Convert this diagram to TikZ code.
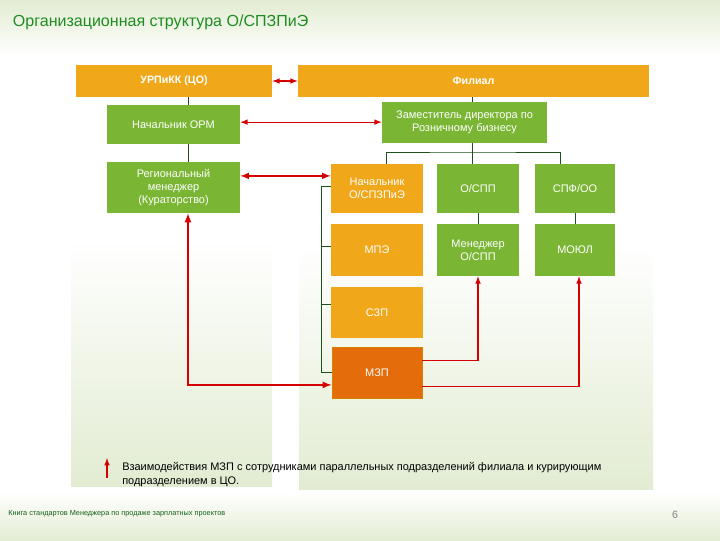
\documentclass[tikz,border=0pt]{standalone}
\usepackage{fontspec}
\setmainfont{Liberation Sans}
\usepackage{tikz}
\usetikzlibrary{arrows,calc,positioning}

\definecolor{orgorange}{RGB}{240,168,26}
\definecolor{orggreen}{RGB}{122,182,52}
\definecolor{mzporange}{RGB}{228,108,10}
\definecolor{linkred}{RGB}{214,0,0}
\definecolor{bargreen}{RGB}{28,80,28}
\definecolor{titlegreen}{RGB}{30,140,30}
\definecolor{panelgreen}{RGB}{226,236,210}

\tikzset{
  unit/.style={draw=none, text=white, align=center, font=\fontsize{7.8}{9.2}\selectfont, inner sep=1pt},
  obox/.style={unit, fill=orgorange},
  gbox/.style={unit, fill=orggreen},
  head/.style={obox, font=\fontsize{7.6}{9}\selectfont\bfseries},
  tree/.style={draw=bargreen, line width=0.7pt},
  link/.style={draw=linkred, line width=0.8pt, >=latex},
}

\begin{document}
\begin{tikzpicture}[x=0.025cm, y=-0.025cm]
		% page and panels
		\useasboundingbox (0,0) rectangle (720,540);
		\shade[top color=panelgreen, bottom color=white] (0,0) rectangle (720,56);
		\shade[top color=white, bottom color=panelgreen] (0,492) rectangle (720,540);
		\shade[top color=white, bottom color=panelgreen] (71,238) rectangle (272,486);
		\shade[top color=white, bottom color=panelgreen] (299,244) rectangle (653,489);
		\node[anchor=west, text=titlegreen, font=\fontsize{11.4}{13}\selectfont] (title) at (8,22) {Организационная структура О/СПЗПиЭ};

		% centre and branch
		\node[head, minimum width=4.9cm, minimum height=0.8cm] (urp) at (174,81) {УРПиКК (ЦО)};
		\node[head, minimum width=8.775cm, minimum height=0.8cm] (fil) at (473.5,81) {Филиал};
		\node[gbox, minimum width=3.325cm, minimum height=0.975cm] (orm) at (173.5,124.5) {Начальник ОРМ};
		\node[gbox, minimum width=3.325cm, minimum height=1.275cm] (reg) at (173.5,187.5) {Региональный\\менеджер\\(Кураторство)};
		\node[gbox, minimum width=4.125cm, minimum height=1.025cm] (zam) at (464.5,122.5) {Заместитель директора по\\Розничному бизнесу};

		% departments
		\node[obox, minimum width=2.3cm, minimum height=1.225cm] (nach) at (377,188.5) {Начальник\\О/СПЗПиЭ};
		\node[gbox, minimum width=2.05cm, minimum height=1.225cm] (osp) at (478,188.5) {О/СПП};
		\node[gbox, minimum width=2.0cm, minimum height=1.225cm] (spf) at (575,188.5) {СПФ/ОО};
		\node[obox, minimum width=2.3cm, minimum height=1.3cm] (mpe) at (377,250) {МПЭ};
		\node[gbox, minimum width=2.05cm, minimum height=1.3cm] (mosp) at (478,250) {Менеджер\\О/СПП};
		\node[gbox, minimum width=2.0cm, minimum height=1.3cm] (moul) at (575,250) {МОЮЛ};
		\node[obox, minimum width=2.3cm, minimum height=1.275cm] (szp) at (377,312.5) {СЗП};
		\node[unit, fill=mzporange, draw=orange!70!olive, line width=0.6pt, minimum width=2.25cm, minimum height=1.275cm] (mzp) at (377,372.5) {МЗП};

		% subordination
		\coordinate (axis) at (188,0);
		\coordinate (bus) at (472,152);
		\coordinate (rail) at (321,0);
		\draw[tree] (urp.south -| axis) -- (orm.north -| axis);
		\draw[tree] (orm.south -| axis) -- (reg.north -| axis);
		\draw[tree] (fil.south -| bus) -- (zam.north -| bus);
		\draw[tree] (zam.south -| bus) -- (bus);
		\draw[tree] ([xshift=0.225cm]nach.north) |- (bus) -| (spf.north -| 560,0);
		\draw[tree] (bus) -- (osp.north -| bus);
		\draw[tree] (osp.south) -- (mosp.north);
		\draw[tree] (spf.south) -- (moul.north);
		\draw[tree] ([yshift=0.06cm]nach.west) -| (mzp.west -| rail) -- (mzp.west);
		\draw[tree] ([yshift=0.1cm]mpe.west -| rail) -- ([yshift=0.1cm]mpe.west);
		\draw[tree] ([yshift=0.2cm]szp.west -| rail) -- ([yshift=0.2cm]szp.west);

		% interaction
		\draw[link, <->] (urp.east) -- (fil.west);
		\draw[link, <->] ([yshift=0.06cm]orm.east) -- ([yshift=0.06cm]orm.east -| zam.west);
		\draw[link, <->, line width=1.1pt] ([yshift=0.29cm]reg.east) -- ([yshift=0.29cm]reg.east -| nach.west);
		\draw[link, <->, line width=1.2pt] (reg.south -| axis) |- ([yshift=-0.31cm]mzp.west);
		\draw[link, ->] ([yshift=0.29cm]mzp.east) -| (mosp.south);
		\draw[link, ->] ([yshift=-0.34cm]mzp.east) -| ([xshift=0.1cm]moul.south);

		% legend and footer
		\coordinate (key) at (107,478);
		\draw[link, ->] (key) -- ++(0,-20);
		\node[anchor=north west, align=left, font=\fontsize{7.8}{10}\selectfont, inner sep=0pt] (note) at (122,462) {Взаимодействия МЗП с сотрудниками параллельных подразделений филиала и курирующим\\подразделением в ЦО.};
		\node[anchor=west, text=titlegreen!70!black, font=\fontsize{5.2}{6}\selectfont, inner sep=0pt] (book) at (8,514) {Книга стандартов Менеджера по продаже зарплатных проектов};
		\node[text=gray, font=\fontsize{7.5}{9}\selectfont] (page) at (675,515) {6};
\end{tikzpicture}
\end{document}
